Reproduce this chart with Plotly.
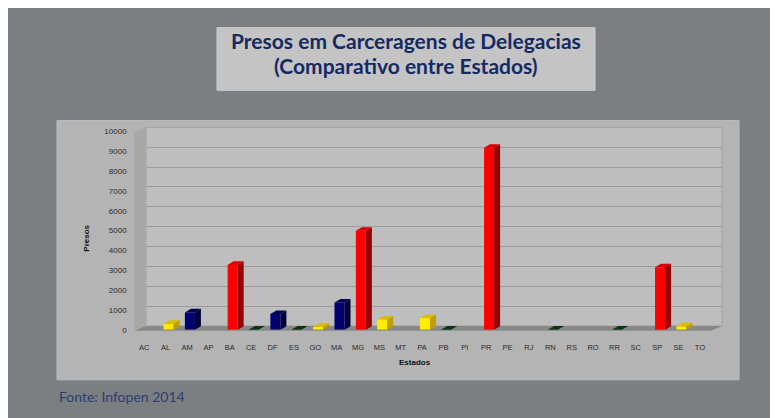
import plotly.graph_objects as go

# ---------------- data ----------------
estados = ["AC", "AL", "AM", "AP", "BA", "CE", "DF", "ES", "GO", "MA", "MG", "MS", "MT", "PA",
           "PB", "PI", "PR", "PE", "RJ", "RN", "RS", "RO", "RR", "SC", "SP", "SE", "TO"]
presos = [0, 300, 880, 0, 3270, 20, 800, 20, 150, 1380, 4990, 520, 0, 600,
          20, 0, 9170, 0, 0, 20, 0, 0, 20, 0, 3150, 180, 0]
y_ticks = [0, 1000, 2000, 3000, 4000, 5000, 6000, 7000, 8000, 9000, 10000]
y_tick_labels = [str(t) for t in y_ticks]

# ---------------- style ----------------
# the page body has an 8px margin, so the figure is placed at (8, 8)
OFF = 8
W, H = 778 - OFF, 418 - OFF
def fx(px): return (px - OFF) / W
def fy(py): return 1 - (py - OFF) / H

PALETTE = {
    "red":    dict(front="#ff0000", side="#980000", top="#dc0000"),
    "navy":   dict(front="#000070", side="#00003a", top="#000052"),
    "yellow": dict(front="#ffec00", side="#bf9e00", top="#dcbc00"),
    "green":  dict(front="#0c3e18", side="#04280c", top="#0a3414"),
}
def band(v):
    if v >= 2000: return "red"
    if v >= 700: return "navy"
    if v >= 100: return "yellow"
    return "green"

F0, F1, B1 = -0.10, 0.37, 0.65   # front-face left/right, back-right (category units)
SK = B1 - F1                       # skew
DEPTH = 180                        # vertical 3D depth in data units

idx = list(range(len(estados)))
fig = go.Figure()

# wall subplot (gridlines only)
fig.add_trace(go.Scatter(x=[None], y=[None], xaxis="x", yaxis="y",
                         showlegend=False, hoverinfo="skip"))

# 3D faces built from the data
for name, cols in PALETTE.items():
    sx, sy, tx, ty = [], [], [], []
    for i, v in zip(idx, presos):
        if v <= 0 or band(v) != name:
            continue
        sx += [i + F1, i + B1, i + B1, i + F1, i + F1, None]
        sy += [0, DEPTH, v + DEPTH, v, 0, None]
        tx += [i + F0, i + F1, i + B1, i + F0 + SK, i + F0, None]
        ty += [v, v, v + DEPTH, v + DEPTH, v, None]
    if sx:
        fig.add_trace(go.Scatter(x=sx, y=sy, fill="toself", mode="lines",
                                 line=dict(width=0), fillcolor=cols["side"],
                                 xaxis="x2", yaxis="y2", showlegend=False, hoverinfo="skip"))
        fig.add_trace(go.Scatter(x=tx, y=ty, fill="toself", mode="lines",
                                 line=dict(width=0), fillcolor=cols["top"],
                                 xaxis="x2", yaxis="y2", showlegend=False, hoverinfo="skip"))

fig.add_trace(go.Bar(x=idx, y=presos, width=F1 - F0, offset=F0,
                     marker=dict(color=[PALETTE[band(v)]["front"] for v in presos], line=dict(width=0)),
                     xaxis="x2", yaxis="y2", showlegend=False,
                     customdata=estados, hovertemplate="%{customdata}: %{y}<extra></extra>"))

# ---------------- decoration ----------------
shapes = [
    dict(type="rect", xref="paper", yref="paper", x0=fx(217), x1=fx(595), y0=fy(24), y1=fy(88),
         fillcolor="#c5c4c5", line=dict(width=1, color="#cecece"), layer="below"),
    dict(type="rect", xref="paper", yref="paper", x0=fx(57), x1=fx(739), y0=fy(119), y1=fy(384),
         fillcolor="#b4b4b4", line=dict(width=1, color="#bdbdbd"), layer="below"),
    dict(type="rect", xref="paper", yref="paper", x0=fx(146), x1=fx(722), y0=fy(126), y1=fy(329),
         fillcolor="#bebebe", line=dict(width=1, color="#a4a4a4"), layer="below"),
    dict(type="path", xref="paper", yref="paper",
         path=f"M {fx(134)} {fy(333)} L {fx(134)} {fy(131)} L {fx(146)} {fy(126)} L {fx(146)} {fy(329)} Z",
         fillcolor="#a8a8a8", line=dict(width=0), layer="below"),
    dict(type="path", xref="paper", yref="paper",
         path=f"M {fx(134)} {fy(334)} L {fx(711)} {fy(334)} L {fx(722)} {fy(329)} L {fx(146)} {fy(329)} Z",
         fillcolor="#888888", line=dict(width=0), layer="below"),
]

navy = "#142a62"
title_font = dict(family="Lato, Roboto, sans-serif", size=21, color=navy, weight="bold")
annotations = [
    dict(text="Presos em Carceragens de Delegacias", x=fx(405.5), y=fy(37.5), xref="paper", yref="paper",
         showarrow=False, xanchor="center", yanchor="middle", font=title_font),
    dict(text="(Comparativo entre Estados)", x=fx(405.5), y=fy(62.5), xref="paper", yref="paper",
         showarrow=False, xanchor="center", yanchor="middle", font=title_font),
    dict(text="<b>Presos</b>", x=fx(86.7), y=fy(239), xref="paper", yref="paper", textangle=-90,
         showarrow=False, xanchor="center", yanchor="middle",
         font=dict(family="Liberation Sans, Arial, sans-serif", size=8, color="#111111")),
    dict(text="<b>Estados</b>", x=fx(415), y=fy(366), xref="paper", yref="paper",
         showarrow=False, xanchor="center", yanchor="middle",
         font=dict(family="Liberation Sans, Arial, sans-serif", size=8, color="#111111")),
    dict(text="Fonte: Infopen 2014", x=fx(57), y=fy(401), xref="paper", yref="paper",
         showarrow=False, xanchor="left", yanchor="middle",
         font=dict(family="Lato, Roboto, sans-serif", size=14, color="#2c3d72")),
]

tick_font = dict(family="Liberation Sans, Arial, sans-serif", size=8, color="#2a2a2a")
fig.update_layout(
    width=W, height=H, margin=dict(l=0, r=0, t=0, b=0),
    paper_bgcolor="#7b7f82", plot_bgcolor="rgba(0,0,0,0)",
    barmode="overlay", showlegend=False,
    shapes=shapes, annotations=annotations,
    xaxis=dict(domain=[fx(146), fx(722)], range=[0, 1], visible=False, fixedrange=True),
    yaxis=dict(domain=[fy(329), fy(126)], range=[0, 10000], tickvals=y_ticks, showgrid=True,
               gridcolor="#9c9c9c", gridwidth=1.3, showticklabels=False, zeroline=False,
               showline=False, ticks="", anchor="x", fixedrange=True),
    xaxis2=dict(domain=[fx(133.6), fx(710.6)], range=[-0.5, len(estados) - 0.5], anchor="y2",
                tickvals=idx, ticktext=estados, showgrid=False, zeroline=False, showline=False,
                ticks="", ticklabelstandoff=12, tickfont=dict(tick_font, size=7.5), fixedrange=True),
    yaxis2=dict(domain=[fy(333), fy(130)], range=[0, 10000], anchor="x2", tickvals=y_ticks,
                ticktext=y_tick_labels,
                showgrid=False, zeroline=False, showline=False, ticks="", ticklabelstandoff=6,
                tickfont=tick_font, fixedrange=True),
)

fig.write_html("out.html")
